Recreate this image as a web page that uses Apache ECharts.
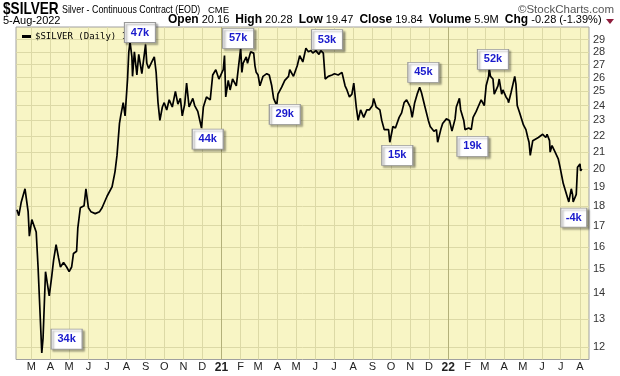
<!DOCTYPE html>
<html><head><meta charset="utf-8">
<script src="https://cdn.jsdelivr.net/npm/echarts@6/dist/echarts.min.js"></script>
<style>html,body{margin:0;padding:0;background:#fff}#c{width:620px;height:376px}</style>
</head><body><div id="c"></div>
<script>
const dates = [
'2020-02-07','2020-02-10','2020-02-14','2020-02-20','2020-02-25','2020-02-27','2020-03-02','2020-03-09','2020-03-12','2020-03-18',
'2020-03-20','2020-03-24','2020-03-30','2020-04-03','2020-04-06','2020-04-10','2020-04-14','2020-04-17','2020-04-22','2020-04-27',
'2020-05-01','2020-05-05','2020-05-08','2020-05-13','2020-05-15','2020-05-19','2020-05-22','2020-05-25','2020-05-28','2020-06-01',
'2020-06-05','2020-06-12','2020-06-19','2020-06-23','2020-07-01','2020-07-09','2020-07-13','2020-07-14','2020-07-17','2020-07-21',
'2020-07-23','2020-07-27','2020-07-30','2020-08-03','2020-08-05','2020-08-07','2020-08-10','2020-08-11','2020-08-14','2020-08-18',
'2020-08-21','2020-08-26','2020-09-01','2020-09-03','2020-09-06','2020-09-11','2020-09-15','2020-09-18','2020-09-21','2020-09-24',
'2020-09-28','2020-10-01','2020-10-05','2020-10-09','2020-10-14','2020-10-19','2020-10-23','2020-10-27','2020-10-30','2020-11-03',
'2020-11-06','2020-11-10','2020-11-16','2020-11-19','2020-11-24','2020-11-30','2020-12-03','2020-12-08','2020-12-14','2020-12-18',
'2020-12-23','2020-12-28','2021-01-04','2021-01-06','2021-01-08','2021-01-12','2021-01-15','2021-01-19','2021-01-25','2021-02-01',
'2021-02-03','2021-02-05','2021-02-10','2021-02-12','2021-02-17','2021-02-22','2021-02-24','2021-02-26','2021-03-01','2021-03-04',
'2021-03-09','2021-03-15','2021-03-19','2021-03-23','2021-03-26','2021-03-31','2021-04-02','2021-04-08','2021-04-13','2021-04-19',
'2021-04-21','2021-04-27','2021-05-03','2021-05-07','2021-05-12','2021-05-17','2021-05-21','2021-05-25','2021-05-28','2021-06-02',
'2021-06-07','2021-06-10','2021-06-14','2021-06-17','2021-06-22','2021-06-28','2021-07-02','2021-07-08','2021-07-14','2021-07-19',
'2021-07-22','2021-07-26','2021-07-30','2021-08-02','2021-08-06','2021-08-09','2021-08-13','2021-08-18','2021-08-23','2021-08-27',
'2021-09-01','2021-09-03','2021-09-07','2021-09-13','2021-09-16','2021-09-20','2021-09-23','2021-09-27','2021-09-29','2021-10-04',
'2021-10-08','2021-10-14','2021-10-18','2021-10-22','2021-10-26','2021-11-01','2021-11-04','2021-11-08','2021-11-12','2021-11-16',
'2021-11-19','2021-11-24','2021-11-30','2021-12-03','2021-12-09','2021-12-13','2021-12-15','2021-12-20','2021-12-23','2021-12-29',
'2022-01-03','2022-01-06','2022-01-07','2022-01-12','2022-01-14','2022-01-19','2022-01-21','2022-01-26','2022-01-28','2022-02-03',
'2022-02-07','2022-02-10','2022-02-15','2022-02-18','2022-02-23','2022-02-28','2022-03-03','2022-03-07','2022-03-08','2022-03-10',
'2022-03-14','2022-03-16','2022-03-22','2022-03-24','2022-03-28','2022-03-30','2022-04-04','2022-04-07','2022-04-08','2022-04-12',
'2022-04-18','2022-04-20','2022-04-22','2022-04-26','2022-05-02','2022-05-06','2022-05-09','2022-05-11','2022-05-13','2022-05-17',
'2022-05-20','2022-05-26','2022-06-02','2022-06-07','2022-06-09','2022-06-13','2022-06-14','2022-06-17','2022-06-22','2022-06-27',
'2022-06-30','2022-07-05','2022-07-08','2022-07-14','2022-07-18','2022-07-20','2022-07-21','2022-07-26','2022-07-28','2022-08-01',
'2022-08-02','2022-08-04','2022-08-05'
];
const prices = [
17.8,17.5,18.2,18.9,17.7,16.5,17.3,16.7,15.1,11.8,
12.3,14.9,13.9,14.7,15.4,16.1,15.5,15.1,15.3,15.1,
14.9,15.1,15.7,15.8,16.9,17.9,17.8,18.0,18.9,17.9,
17.7,17.6,17.7,17.9,18.5,19.0,19.7,19.9,20.8,22.8,
23.3,24.2,23.3,25.9,28.0,28.8,27.6,26.1,28.0,26.2,
27.8,26.3,28.6,27.1,26.7,27.2,27.6,26.4,24.2,23.0,
23.9,24.2,23.7,24.4,23.9,25.0,24.1,24.5,23.3,24.1,
25.6,23.9,24.5,24.0,23.6,22.5,23.9,24.6,24.4,26.2,
26.6,25.9,26.6,27.7,24.6,25.8,25.1,25.9,25.4,28.3,
26.4,27.1,27.6,27.1,28.0,27.9,26.9,26.4,26.2,25.4,
26.1,26.3,26.2,25.4,24.5,24.0,24.8,25.3,25.8,26.1,
26.6,26.1,26.9,27.7,27.2,28.3,28.0,28.1,27.9,28.1,
27.8,28.1,27.9,25.9,26.1,26.2,26.3,26.2,26.4,25.4,
25.1,24.6,24.8,25.6,23.9,23.0,23.7,23.2,23.7,23.7,
24.0,24.5,23.9,23.7,23.0,22.4,22.5,22.4,21.6,22.6,
22.5,23.2,23.5,24.2,24.4,23.9,23.2,24.2,24.8,25.3,
24.9,24.0,23.0,22.6,22.3,22.4,21.6,22.4,22.8,23.1,
23.0,22.9,22.3,23.1,23.9,24.5,23.7,23.0,22.4,22.5,
22.4,23.2,23.6,23.9,24.4,24.0,25.4,26.1,26.7,26.1,
25.9,24.8,25.4,25.9,24.8,25.1,24.6,24.4,24.2,24.9,
26.1,25.5,24.0,23.5,22.7,22.4,21.9,21.6,20.8,21.7,
21.8,21.9,22.1,21.9,22.1,21.7,21.0,21.4,21.0,20.6,
20.1,19.2,19.1,18.2,18.9,18.6,18.2,18.6,20.1,20.3,
19.9,20.0,19.84
];
const yTicks = [12,13,14,15,16,17,18,19,20,21,22,23,24,25,26,27,28,29];
const monthTickDates = [
'2020-03-01','2020-04-01','2020-05-01','2020-06-01','2020-07-01','2020-08-01','2020-09-01','2020-10-01','2020-11-01','2020-12-01',
'2021-01-01','2021-02-01','2021-03-01','2021-04-01','2021-05-01','2021-06-01','2021-07-01','2021-08-01','2021-09-01','2021-10-01',
'2021-11-01','2021-12-01','2022-01-01','2022-02-01','2022-03-01','2022-04-01','2022-05-01','2022-06-01','2022-07-01','2022-08-01'
];
const monthTickLabels = ['M','A','M','J','J','A','S','O','N','D','21','F','M','A','M','J','J','A','S','O','N','D','22','F','M','A','M','J','J','A'];
const yearTickDates = ['2021-01-01','2022-01-01'];
const annDates = ['2020-04-27','2020-08-23','2020-12-10','2021-01-28','2021-04-13','2021-06-20','2021-10-11','2021-11-22','2022-02-09','2022-03-14','2022-07-22'];
const annValues = [12.28,29.6,21.8,29.1,23.4,29.0,20.8,26.4,21.35,27.4,17.4];
const annLabels = ['34k','47k','44k','57k','29k','53k','15k','45k','19k','52k','-4k'];

const gridColor = '#dcd9a6';
const yearColor = '#b3b07a';
const mlData = [];
yTicks.forEach(v => mlData.push({
  yAxis: v,
  lineStyle: {color: gridColor, width: 1, type: 'solid'},
  label: {show: true, position: 'end', formatter: String(v), color: '#333', fontSize: 11, fontFamily: 'Arial, Liberation Sans', distance: 4}
}));
monthTickDates.forEach((d, i) => {
  const isYear = yearTickDates.indexOf(d) >= 0;
  mlData.push({
    xAxis: d,
    lineStyle: {color: isYear ? yearColor : gridColor, width: 1, type: 'solid'},
    label: {show: true, position: 'start', formatter: monthTickLabels[i], color: '#222',
      fontSize: isYear ? 12 : 11, fontWeight: isYear ? 'bold' : 'normal', fontFamily: 'Arial, Liberation Sans', distance: 2}
  });
});
const mpData = annDates.map((d, i) => ({
  name: annLabels[i], coord: [d, annValues[i]],
  symbolSize: annLabels[i] === '-4k' ? [26, 19] : [31, 20]
}));

const chart = echarts.init(document.getElementById('c'), null, {renderer: 'canvas'});
chart.setOption({
  animation: false,
  backgroundColor: '#ffffff',
  grid: {left: 16, right: 31, top: 27, bottom: 16.5, show: true, backgroundColor: '#f8f5c5', borderColor: '#a0a0a0', borderWidth: 1},
  legend: {
    show: true, left: 17, top: 27, itemWidth: 9, itemHeight: 3, icon: 'rect', itemGap: 4,
    textStyle: {fontFamily: 'DejaVu Sans Mono', fontSize: 9, color: '#000', padding: [0, 0, 0, -1]},
    data: ['$SILVER (Daily) 19.84']
  },
  xAxis: {
    type: 'time', min: '2020-02-05 12:00', max: '2022-08-15 12:00',
    axisLine: {show: false}, axisTick: {show: false}, axisLabel: {show: false}, splitLine: {show: false}
  },
  yAxis: {
    type: 'log', logBase: 10, min: 11.58, max: 30.07, position: 'right',
    axisLine: {show: false}, axisTick: {show: false}, axisLabel: {show: false}, splitLine: {show: false}, minorSplitLine: {show: false}
  },
  graphic: [
    {type: 'text', x: 3, y: 1, scaleX: 0.8, style: {text: '$SILVER', font: 'bold 17px Arial, Liberation Sans', fill: '#000', verticalAlign: 'top'}},
    {type: 'text', x: 62, y: 4, scaleX: 0.77, style: {text: 'Silver - Continuous Contract (EOD)', font: '11.5px Arial, Liberation Sans', fill: '#000', verticalAlign: 'top'}},
    {type: 'text', x: 208, y: 5.5, style: {text: 'CME', font: '9.5px Arial, Liberation Sans', fill: '#000', verticalAlign: 'top'}},
    {type: 'text', right: 6, top: 4, style: {text: '\u00a9StockCharts.com', font: '11.5px Arial, Liberation Sans', fill: '#555'}},
    {type: 'text', left: 3, top: 15, style: {text: '5-Aug-2022', font: '11px Arial, Liberation Sans', fill: '#000'}},
    {type: 'text', left: 168, top: 14, style: {
      text: '{b|Open} {v|20.16}  {b|High} {v|20.28}  {b|Low} {v|19.47}  {b|Close} {v|19.84}  {b|Volume} {v|5.9M}  {b|Chg} {v|-0.28 (-1.39%)}',
      rich: {
        b: {font: 'bold 12px Arial, Liberation Sans', fill: '#000'},
        v: {font: '11px Arial, Liberation Sans', fill: '#000'}
      }, font: '11px Arial, Liberation Sans', fill: '#000'}},
    {type: 'polygon', shape: {points: [[606, 19], [614, 19], [610, 24]]}, style: {fill: '#8e1c3c'}}
  ],
  series: [{
    name: '$SILVER (Daily) 19.84',
    type: 'line', z: 3,
    data: dates.map((d, i) => [d, prices[i]]),
    showSymbol: false, symbol: 'none',
    lineStyle: {color: '#000', width: 1.7},
    itemStyle: {color: '#000'},
    markLine: {
      silent: true, symbol: ['none', 'none'], z: 1, animation: false,
      data: mlData
    },
    markPoint: {
      silent: true, z: 6, symbol: 'rect', animation: false,
      itemStyle: {color: '#fff', borderColor: '#9a9a9a', borderWidth: 1, shadowColor: 'rgba(0,0,0,0.35)', shadowOffsetX: 2, shadowOffsetY: 2, shadowBlur: 2},
      label: {show: true, position: 'inside', formatter: '{b}', color: '#1a1acc', fontWeight: 'bold', fontSize: 11, fontFamily: 'Arial, Liberation Sans'},
      data: mpData
    }
  }]
});
</script></body></html>
